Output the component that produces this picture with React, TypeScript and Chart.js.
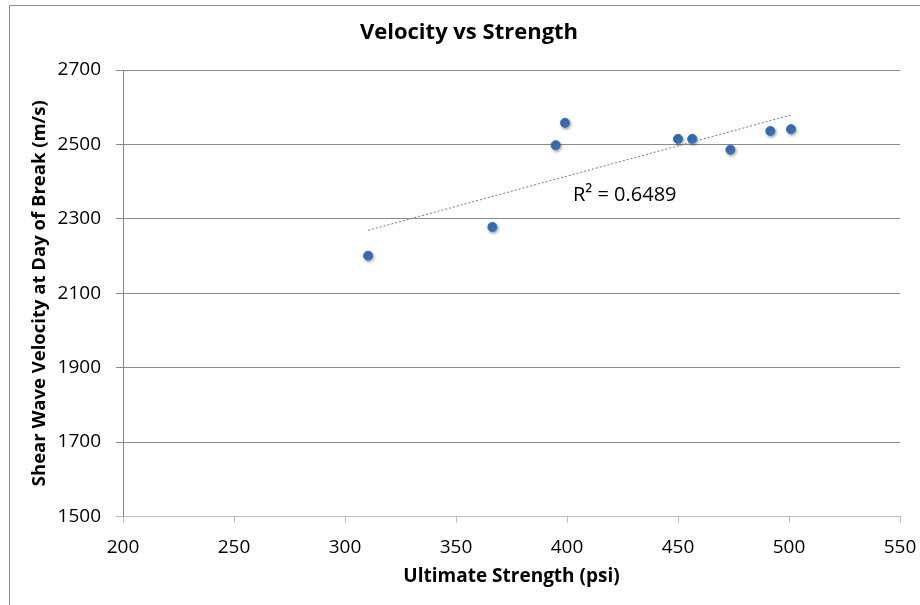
import React, { useEffect, useRef } from "react";
import { Chart, registerables } from "chart.js";

Chart.register(...registerables);

const strengthPsi = [310.4, 366.4, 394.9, 399.1, 450.0, 456.4, 473.6, 491.6, 500.9];
const velocityMs = [2201, 2278, 2498, 2558, 2515, 2515, 2486, 2536, 2541];
const trendX = [310.4, 500.9];
const trendY = [2269, 2579];
const r2Label = "R² = 0.6489";
const r2Anchor = [402.7, 2364];
const xTicks = [200, 250, 300, 350, 400, 450, 500, 550];
const yTicks = [1500, 1700, 1900, 2100, 2300, 2500, 2700];
const titleText = "Velocity vs Strength";
const xTitle = "Ultimate Strength (psi)";
const yTitle = "Shear Wave Velocity at Day of Break (m/s)";

const FONT = "'Open Sans', 'Noto Sans', sans-serif";

export default function App() {
  const ref = useRef<HTMLCanvasElement | null>(null);

  useEffect(() => {
    const canvas = ref.current;
    if (!canvas) return;

    const decor = {
      id: "decor",
      beforeDraw(chart: any) {
        const ctx = chart.ctx;
        ctx.save();
        ctx.fillStyle = "#ffffff";
        ctx.fillRect(0, 0, chart.width, chart.height);
        ctx.strokeStyle = "#8e8e8e";
        ctx.lineWidth = 1;
        ctx.beginPath();
        ctx.moveTo(9.5, chart.height);
        ctx.lineTo(9.5, 5.5);
        ctx.lineTo(chart.width, 5.5);
        ctx.stroke();
        ctx.restore();
      },
      afterDraw(chart: any) {
        const ctx = chart.ctx;
        ctx.save();
        ctx.fillStyle = "#000000";
        ctx.textAlign = "center";
        ctx.textBaseline = "middle";
        ctx.font = `bold 22px ${FONT}`;
        ctx.fillText(titleText, 469, 33);
        const xs = chart.scales.x;
        const ys = chart.scales.y;
        ctx.textAlign = "left";
        ctx.font = `20px ${FONT}`;
        ctx.fillText(r2Label, xs.getPixelForValue(r2Anchor[0]), ys.getPixelForValue(r2Anchor[1]));
        ctx.restore();
      },
      beforeDatasetDraw(chart: any, args: any) {
        if (args.index === 1) {
          const ctx = chart.ctx;
          ctx.save();
          ctx.shadowColor = "rgba(0,0,0,0.35)";
          ctx.shadowBlur = 3;
          ctx.shadowOffsetX = 1;
          ctx.shadowOffsetY = 1.5;
        }
      },
      afterDatasetDraw(chart: any, args: any) {
        if (args.index === 1) chart.ctx.restore();
      },
    };

    const chart = new Chart(canvas, {
      type: "scatter",
      data: {
        datasets: [
          {
            type: "line",
            label: "Trend",
            data: trendX.map((x, i) => ({ x, y: trendY[i] })),
            borderColor: "#4F81BD",
            borderWidth: 1,
            borderDash: [2, 2],
            pointRadius: 0,
            fill: false,
          },
          {
            label: "Velocity",
            data: strengthPsi.map((x, i) => ({ x, y: velocityMs[i] })),
            backgroundColor: "#3B70B4",
            borderColor: "#3B70B4",
            borderWidth: 1,
            pointRadius: 4.5,
            pointStyle: "circle",
          },
        ],
      },
      options: {
        animation: false,
        responsive: false,
        maintainAspectRatio: false,
        layout: { padding: { left: 0, top: 70, right: 20, bottom: 0 } },
        plugins: {
          legend: { display: false },
          tooltip: { enabled: false },
          title: { display: false },
        },
        scales: {
          x: {
            type: "linear",
            min: 200,
            max: 550,
            afterBuildTicks: (s: any) => {
              s.ticks = xTicks.map((v) => ({ value: v }));
            },
            afterFit: (s: any) => {
              s.height = 88.5;
              s.paddingLeft = 0;
              s.paddingRight = 0;
            },
            ticks: {
              color: "#000",
              font: { family: FONT, size: 19 },
              padding: 14,
              maxRotation: 0,
              callback: (v: any) => String(v),
            },
            grid: {
              drawOnChartArea: false,
              drawTicks: true,
              tickLength: 6,
              color: "#bdbdbd",
            },
            border: { display: true, color: "#bdbdbd", width: 1 },
            title: {
              display: true,
              text: xTitle,
              color: "#000",
              font: { family: FONT, size: 19, weight: "bold" },
              padding: { top: 0, bottom: 17 },
            },
          },
          y: {
            type: "linear",
            min: 1500,
            max: 2700,
            afterBuildTicks: (s: any) => {
              s.ticks = yTicks.map((v) => ({ value: v }));
            },
            afterFit: (s: any) => {
              s.width = 123;
              s.paddingTop = 0;
              s.paddingBottom = 0;
            },
            ticks: {
              color: "#000",
              font: { family: FONT, size: 19 },
              padding: 15,
              callback: (v: any) => String(v),
            },
            grid: {
              drawOnChartArea: true,
              drawTicks: true,
              tickLength: 7,
              color: (c: any) => (c.tick && c.tick.value === 1500 ? "#bdbdbd" : "#8a8a8a"),
            },
            border: { display: true, color: "#8a8a8a", width: 1 },
            title: {
              display: true,
              text: yTitle,
              color: "#000",
              font: { family: FONT, size: 18.5, weight: "bold" },
              padding: { top: 29, bottom: 0 },
            },
          },
        },
      },
      plugins: [decor],
    } as any);

    return () => chart.destroy();
  }, []);

  return (
    <div style={{ position: "absolute", left: 0, top: 0, width: 920, height: 605 }}>
      <canvas ref={ref} width={920} height={605} style={{ display: "block", width: 920, height: 605 }} />
    </div>
  );
}
